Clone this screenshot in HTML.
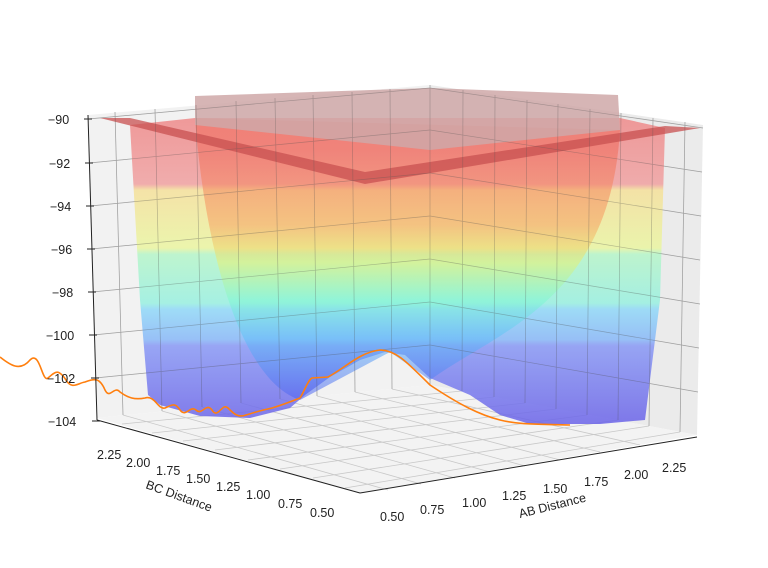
<!DOCTYPE html>
<html><head><style>body{margin:0;background:#fff}svg{display:block}text{font-family:"Liberation Sans",sans-serif;font-size:12.5px;fill:#222}</style></head><body>
<svg width="768" height="568" viewBox="0 0 768 568">
<defs>
<linearGradient id="jet" gradientUnits="userSpaceOnUse" x1="0" y1="120" x2="0" y2="425">
<stop offset="0" stop-color="#ee8a8a"/>
<stop offset="0.21" stop-color="#f0a0a0"/>
<stop offset="0.23" stop-color="#f5e09a"/>
<stop offset="0.42" stop-color="#eaf5a0"/>
<stop offset="0.44" stop-color="#b5f5c8"/>
<stop offset="0.6" stop-color="#98f0e0"/>
<stop offset="0.62" stop-color="#90d8f8"/>
<stop offset="0.72" stop-color="#88b8f8"/>
<stop offset="0.74" stop-color="#8898f5"/>
<stop offset="1" stop-color="#6a62e8"/>
</linearGradient>
<linearGradient id="inner" gradientUnits="userSpaceOnUse" x1="0" y1="150" x2="0" y2="400">
<stop offset="0" stop-color="#f06a5a"/>
<stop offset="0.3" stop-color="#f8a060"/>
<stop offset="0.45" stop-color="#e8f070"/>
<stop offset="0.6" stop-color="#80f8d0"/>
<stop offset="0.75" stop-color="#60c0f8"/>
<stop offset="1" stop-color="#5060f0"/>
</linearGradient>
<g id="grid">
<line x1="88" y1="119" x2="430" y2="88"/><line x1="89" y1="163" x2="430" y2="130"/><line x1="90" y1="206" x2="430" y2="173"/><line x1="91" y1="249" x2="430" y2="216"/><line x1="92" y1="292" x2="430" y2="259"/><line x1="93" y1="335" x2="430" y2="302"/><line x1="95" y1="378" x2="430" y2="345"/>
<line x1="430" y1="88" x2="703" y2="128"/><line x1="430" y1="130" x2="702" y2="172"/><line x1="430" y1="173" x2="701" y2="216"/><line x1="430" y1="216" x2="700" y2="260"/><line x1="430" y1="259" x2="700" y2="304"/><line x1="430" y1="302" x2="699" y2="348"/><line x1="430" y1="345" x2="698" y2="392"/>
<line x1="115" y1="112" x2="123" y2="415"/><line x1="155" y1="109" x2="162" y2="411"/><line x1="196" y1="105" x2="202" y2="407"/><line x1="236" y1="101" x2="241" y2="403"/><line x1="275" y1="98" x2="280" y2="399"/><line x1="313" y1="95" x2="317" y2="396"/><line x1="352" y1="92" x2="355" y2="392"/><line x1="390" y1="89" x2="392" y2="389"/><line x1="430" y1="85" x2="430" y2="385"/>
<line x1="463" y1="90" x2="462" y2="391"/><line x1="495" y1="95" x2="494" y2="397"/><line x1="527" y1="100" x2="525" y2="403"/><line x1="558" y1="104" x2="556" y2="409"/><line x1="590" y1="109" x2="587" y2="415"/><line x1="621" y1="113" x2="618" y2="420"/><line x1="653" y1="118" x2="649" y2="426"/><line x1="685" y1="122" x2="680" y2="432"/>
</g>
</defs>
<polygon points="88,115 430,85 430,385 97,418" fill="#f2f2f2"/>
<polygon points="430,85 703,125 697,435 430,385" fill="#ebebeb"/>
<polygon points="97,418 430,385 697,435 360,493" fill="#f3f3f3"/>
<g stroke="#c8c8c8" stroke-width="0.8" fill="none">
<use href="#grid"/>
<line x1="123" y1="415" x2="388" y2="490"/><line x1="162" y1="411" x2="421" y2="484"/><line x1="202" y1="407" x2="455" y2="478"/><line x1="241" y1="403" x2="490" y2="472"/><line x1="280" y1="399" x2="525" y2="466"/><line x1="317" y1="396" x2="560" y2="460"/><line x1="355" y1="392" x2="600" y2="452"/><line x1="392" y1="389" x2="640" y2="445"/>
<line x1="122" y1="424" x2="462" y2="391"/><line x1="152" y1="433" x2="494" y2="397"/><line x1="183" y1="441" x2="525" y2="403"/><line x1="215" y1="450" x2="556" y2="409"/><line x1="248" y1="460" x2="587" y2="415"/><line x1="280" y1="469" x2="618" y2="420"/><line x1="313" y1="478" x2="649" y2="426"/><line x1="345" y1="488" x2="680" y2="432"/>
</g>
<polygon points="130,125 195,118 620,118 665,128 660,300 645,420 600,424 530,424 500,415 470,395 430,378 405,355 385,352 360,360 330,377 305,395 290,408 250,418 200,416 160,405 148,395 140,300" fill="url(#jet)" opacity="0.85"/>
<path d="M195,118 C205,250 240,380 300,400 L390,352 L430,380 C500,330 610,300 620,130 Z" fill="url(#inner)" opacity="0.55"/>
<polygon points="195,96 430,88 618,95 620,130 430,150 195,125" fill="#cfa8a8" opacity="0.85"/>
<polygon points="100,118 130,118 365,172 665,126 700,128 365,184" fill="#c85050" opacity="0.75"/>
<g stroke="#555" stroke-width="0.7" fill="none" opacity="0.35"><use href="#grid"/></g>
<path d="M0,357 C10,365 20,372 30,360 C40,350 42,383 48,378 C55,372 58,368 66,380 C72,390 78,383 85,382 C95,378 100,378 105,390 C110,400 114,385 120,392 C128,398 135,400 145,398 C155,395 158,410 165,408 C172,405 175,402 180,410 C186,418 190,405 196,410 C202,416 206,402 212,410 C218,420 222,402 228,408 C234,414 238,418 246,415 C256,412 262,410 272,408 C282,405 290,402 300,398 C305,390 308,380 312,378 L328,377 C345,368 360,352 380,350 C395,350 405,360 430,385 C460,405 480,415 500,420 C520,425 540,424 570,425" fill="none" stroke="#ff7f0e" stroke-width="1.6"/>
<g stroke="#222" stroke-width="1">
<line x1="88" y1="115" x2="97" y2="420"/>
<line x1="84" y1="119" x2="92" y2="119"/><line x1="85" y1="163" x2="93" y2="163"/><line x1="86" y1="206" x2="94" y2="206"/><line x1="87" y1="249" x2="95" y2="249"/><line x1="88" y1="292" x2="96" y2="292"/><line x1="89" y1="335" x2="97" y2="335"/><line x1="91" y1="378" x2="99" y2="378"/><line x1="92" y1="421" x2="100" y2="421"/>
<line x1="97" y1="420" x2="360" y2="493"/><line x1="360" y1="493" x2="697" y2="437"/>
</g>
<text x="48" y="124">−90</text><text x="49" y="168">−92</text><text x="50" y="211">−94</text><text x="51" y="254">−96</text><text x="52" y="297">−98</text><text x="46" y="340">−100</text><text x="47" y="383">−102</text><text x="48" y="426">−104</text>
<g>
<text x="97" y="459">2.25</text><text x="126" y="467">2.00</text><text x="156" y="475">1.75</text><text x="186" y="483">1.50</text><text x="216" y="491">1.25</text><text x="246" y="499">1.00</text><text x="278" y="508">0.75</text><text x="310" y="517">0.50</text>
<text x="380" y="521">0.50</text><text x="420" y="514">0.75</text><text x="462" y="507">1.00</text><text x="502" y="500">1.25</text><text x="543" y="493">1.50</text><text x="584" y="486">1.75</text><text x="624" y="479">2.00</text><text x="662" y="472">2.25</text>
</g>
<text x="145" y="488" transform="rotate(20 145 488)">BC Distance</text>
<text x="520" y="518" transform="rotate(-14 520 518)">AB Distance</text>
</svg>
</body></html>
